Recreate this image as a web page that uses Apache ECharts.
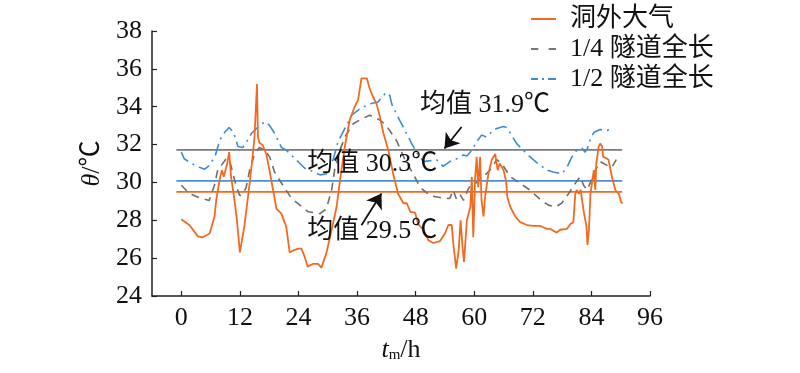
<!DOCTYPE html>
<html><head><meta charset="utf-8">
<script src="https://cdn.jsdelivr.net/npm/echarts@6/dist/echarts.min.js"></script>
<style>html,body{margin:0;padding:0;background:#fff}#c{width:800px;height:373px}</style>
</head><body><div id="c"></div>
<script>
// ---- data ----
const xTicks = [0, 12, 24, 36, 48, 60, 72, 84, 96];
const outsideT = [0,1.7,3.4,4.4,5.8,6.8,7.2,7.9,8.3,8.7,9.4,9.8,10.2,10.9,11.4,12.0,12.4,12.9,13.5,14.0,14.6,15.0,15.5,15.7,16.0,16.7,17.4,18.1,18.8,19.5,20.5,21.5,22.2,22.9,23.9,24.6,25.3,25.9,27.0,28.0,28.7,29.7,30.8,31.8,32.5,33.5,34.5,35.5,36.2,36.9,38.0,38.6,39.3,40.0,40.7,41.4,42.4,43.4,44.4,45.5,46.2,46.9,47.9,48.5,49.6,50.6,51.6,53.0,54.0,54.7,55.4,55.7,56.3,56.8,57.2,57.6,57.9,58.5,59.2,59.5,59.8,60.2,60.5,60.8,61.2,61.5,61.9,62.2,62.9,63.6,64.3,64.6,64.8,65.2,66.0,66.5,66.8,67.4,68.4,69.4,70.8,72.1,73.5,74.9,75.5,76.9,77.6,79.0,79.7,80.3,80.7,81.0,81.4,81.8,82.4,83.0,83.2,83.5,83.8,84.1,84.5,84.8,85.0,85.5,85.8,86.2,86.4,86.9,87.5,88.2,88.9,89.6,90.1,90.4];
const outsideV = [28.05,27.74,27.15,27.1,27.3,28.2,29.15,30.2,30.65,30.3,31.0,31.6,30.3,29.05,28.0,26.3,26.4,27.65,28.9,29.95,31.35,32.4,35.2,32.4,32.1,31.95,31.5,30.6,29.6,28.6,28.35,27.65,26.3,26.4,26.5,26.5,26.05,25.55,25.7,25.7,25.5,26.25,27.5,28.7,30.1,31.9,33.3,34.0,34.35,35.5,35.5,34.95,34.5,34.15,33.45,32.6,31.7,30.45,29.4,28.9,28.9,28.45,28.4,27.8,27.5,26.95,26.8,26.9,27.3,27.75,27.75,26.8,25.45,26.4,28.0,26.6,25.8,28.0,28.7,30.3,27.1,30.3,31.35,29.75,31.35,29.05,28.2,29.2,30.45,31.2,31.5,31.4,30.65,31.0,30.65,30.1,29.2,28.7,28.2,27.9,27.75,27.7,27.7,27.55,27.55,27.35,27.5,27.55,27.8,27.9,29.4,29.6,29.4,29.6,28.5,27.65,26.7,27.5,29.4,29.95,30.65,29.6,31.0,31.9,32.05,31.9,31.35,31.3,31.2,30.3,29.6,29.4,28.95,28.9];
const quarterT = [0,1.7,3.7,5.7,6.8,7.5,8.2,9.2,9.9,10.6,11.3,12.0,12.6,13.3,14.0,15.0,16.0,17.1,18.1,19.1,20.8,22.6,24.3,26.0,28.4,29.7,30.8,31.4,32.5,33.5,35.2,36.9,38.6,40.7,42.0,44.1,45.8,47.5,48.9,51.0,53.0,55.0,55.7,56.3,57.0,57.8,58.5,59.2,60.5,61.9,63.2,64.6,65.6,67.4,69.4,71.4,73.5,75.2,76.6,77.9,79.3,80.7,81.7,82.4,83.1,83.8,84.8,85.8,87.2,88.2,89.1];
const quarterV = [29.85,29.4,29.2,29.05,29.85,30.7,30.9,31.25,31.15,30.45,29.75,29.3,29.4,29.75,30.65,31.5,31.85,31.7,31.35,30.55,29.85,29.15,28.8,28.45,28.35,28.6,29.6,30.65,31.7,32.4,33.1,33.35,33.55,33.3,33.0,32.2,31.2,30.45,29.75,29.3,29.2,29.15,29.6,29.15,29.4,29.05,29.5,29.85,30.0,30.3,30.65,31.2,31.0,30.3,29.95,29.6,29.1,28.8,28.7,28.9,29.4,29.95,30.3,29.85,29.6,30.0,30.65,31.1,30.9,30.8,31.2];
const halfT = [0,0.6,2.1,3.7,4.8,5.8,7.0,7.9,8.9,9.8,10.7,11.6,12.6,13.3,14.4,15.4,16.4,17.4,18.1,19.1,20.5,21.5,22.9,24.3,25.3,26.3,28.4,29.7,31.1,32.1,33.5,34.9,36.6,38.6,40.3,41.4,42.0,42.7,43.1,44.1,45.8,47.2,48.5,49.6,51.0,52.3,53.6,55.0,56.4,57.8,58.5,59.5,60.5,61.5,62.5,63.9,64.6,66.0,66.7,67.4,68.7,70.8,72.8,74.9,76.2,77.9,79.0,80.0,81.0,82.1,82.7,83.2,83.8,84.5,85.8,87.2,88.5];
const halfV = [31.6,31.25,31.0,30.8,30.7,30.9,31.45,32.25,32.65,32.9,32.65,31.9,31.85,32.1,32.6,32.85,33.1,33.2,33.0,32.6,31.85,31.7,31.35,31.0,30.75,30.65,30.4,30.45,31.2,32.15,32.85,33.55,33.9,34.15,34.25,34.6,34.75,34.6,34.15,33.6,32.75,32.05,31.45,31.1,31.15,31.2,30.85,31.1,31.25,31.45,31.4,31.7,32.15,32.5,32.4,32.75,32.85,32.95,32.9,32.6,32.05,31.5,31.05,30.65,30.55,30.45,30.8,31.35,31.7,31.8,31.6,31.8,32.3,32.65,32.8,32.75,32.85];
const seriesNames = ['洞外大气', '1/4 隧道全长', '1/2 隧道全长'];
// mean lines as drawn: [value, startT, endT]
const meanLineGray = [31.72, -1, 90.3];
const meanLineBlue = [30.08, -1, 90.3];
const meanLineOrange = [29.5, -1, 90.3];
// annotations: text, [t, v] of text centre, arrow from, arrow to
const annoTexts = ['均值 31.9℃', '均值 30.3℃', '均值 29.5℃'];
const annoPos = [[62.2, 34.07], [39.1, 30.96], [39.1, 27.42]];
const arrows = [[[57.4, 32.93], [53.9, 31.79]], [[36.9, 27.74], [41.0, 29.41]]];

const zip = (a, b) => a.map((t, i) => [t, b[i]]);
const SERIF = "'Liberation Serif','Noto Sans CJK SC',serif";
const C_OR = '#f26a21', C_GR = '#6e6e6e', C_BL = '#3d8bd3';
const ICON_SOLID = 'path://M0,0H25V2H0Z';
const ICON_DASH = 'path://M0,0H7V2H0Z M17,0H24V2H17Z';
const ICON_DASHDOT = 'path://M0,0H7V2H0Z M11,0H13V2H11Z M17,0H25V2H17Z';
const FS = 26;

const chart = echarts.init(document.getElementById('c'), null, {renderer: 'canvas'});
const meanSeries = (m, color) => ({
  type: 'line', data: [[m[1], m[0]], [m[2], m[0]]], symbol: 'none', silent: true,
  lineStyle: {color, width: 1.6}, z: 1
});
chart.setOption({
  animation: false,
  textStyle: {fontFamily: SERIF},
  grid: {left: 152, right: 150, top: 31, bottom: 77, containLabel: false},
  legend: {
    data: [
      {name: seriesNames[0], icon: ICON_SOLID, itemStyle: {color: C_OR}},
      {name: seriesNames[1], icon: ICON_DASH, itemStyle: {color: '#777'}},
      {name: seriesNames[2], icon: ICON_DASHDOT, itemStyle: {color: C_BL}}
    ],
    orient: 'vertical', left: 526, top: 1, itemGap: 4,
    itemWidth: 25, itemHeight: 2, symbolKeepAspect: false,
    textStyle: {fontFamily: SERIF, fontSize: FS, color: '#111', padding: [0, 0, 0, 9]}
  },
  xAxis: {
    type: 'value', min: -6, max: 96,
    axisLine: {onZero: false, lineStyle: {color: '#222', width: 1.5}},
    axisTick: {show: true, inside: true, length: 5, customValues: xTicks, lineStyle: {color: '#222', width: 1.2}},
    axisLabel: {customValues: xTicks, fontSize: FS, color: '#111', margin: 9, fontFamily: SERIF},
    splitLine: {show: false},
    name: '{i|t}{s|m}/h', nameLocation: 'middle', nameGap: 41,
    nameTextStyle: {fontSize: FS, color: '#111', fontFamily: SERIF,
      rich: {i: {fontStyle: 'italic', fontSize: FS, fontFamily: SERIF},
             s: {fontSize: 15, fontFamily: SERIF, padding: [11, 0, 0, 0]}}}
  },
  yAxis: {
    type: 'value', min: 24, max: 38, interval: 2,
    axisLine: {show: true, onZero: false, lineStyle: {color: '#222', width: 1.5}},
    axisTick: {show: true, inside: true, length: 5, lineStyle: {color: '#222', width: 1.2}},
    axisLabel: {fontSize: FS, color: '#111', margin: 10, fontFamily: SERIF},
    splitLine: {show: false},
    name: '{i|θ}/℃', nameLocation: 'middle', nameRotate: 90, nameGap: 44,
    nameTextStyle: {fontSize: FS, color: '#111', fontFamily: SERIF,
      rich: {i: {fontStyle: 'italic', fontSize: FS, fontFamily: SERIF}}}
  },
  series: [
    meanSeries(meanLineGray, '#7a7a7a'),
    meanSeries(meanLineBlue, '#4a8fd0'),
    meanSeries(meanLineOrange, C_OR),
    {
      name: seriesNames[2], type: 'line', data: zip(halfT, halfV), symbol: 'none', z: 3,
      lineStyle: {color: C_BL, width: 1.6, type: [12, 5, 2, 5]}, itemStyle: {color: C_BL}
    },
    {
      name: seriesNames[1], type: 'line', data: zip(quarterT, quarterV), symbol: 'none', z: 3,
      lineStyle: {color: C_GR, width: 1.6, type: [8, 6]}, itemStyle: {color: C_GR}
    },
    {
      name: seriesNames[0], type: 'line', data: zip(outsideT, outsideV), symbol: 'none', z: 4,
      lineStyle: {color: C_OR, width: 1.8}, itemStyle: {color: C_OR},
      markPoint: {
        symbol: 'circle', symbolSize: 0, silent: true,
        label: {show: true, position: 'inside', fontSize: FS, color: '#111', fontFamily: SERIF,
          formatter: p => p.name},
        data: annoTexts.map((t, i) => ({name: t, coord: annoPos[i], value: t}))
      },
      markLine: {
        silent: true, symbol: ['none', 'arrow'], symbolSize: 14,
        itemStyle: {color: '#111'},
        lineStyle: {color: '#111', width: 1.8, type: 'solid'},
        label: {show: false},
        data: arrows.map(a => [{coord: a[0]}, {coord: a[1]}])
      }
    }
  ]
});
</script></body></html>
